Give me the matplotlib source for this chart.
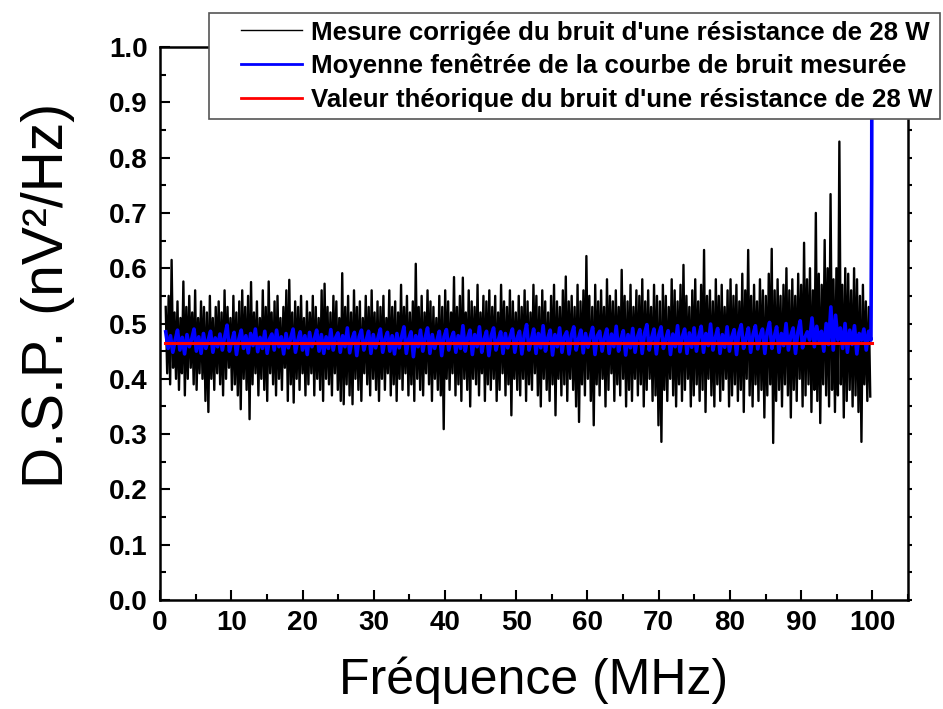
import numpy as np
import matplotlib
matplotlib.use('Agg')
import matplotlib.pyplot as plt
from matplotlib.ticker import MultipleLocator, FormatStrFormatter
from matplotlib.legend_handler import HandlerLine2D

f_start, f_stop = 0.8, 99.7
noise_hi = [
    0.53, 0.55, 0.615, 0.52, 0.54, 0.51, 0.576, 0.53, 0.55, 0.52, 0.56, 0.51, 0.54, 0.53, 0.52, 0.55, 0.51, 0.53, 0.54, 0.52, 0.56, 0.53, 0.51, 0.55,
    0.52, 0.54, 0.56, 0.53, 0.55, 0.575, 0.52, 0.54, 0.51, 0.56, 0.53, 0.576, 0.52, 0.54, 0.55, 0.51, 0.53, 0.56, 0.579, 0.52, 0.54, 0.53, 0.55, 0.51,
    0.54, 0.52, 0.55, 0.53, 0.51, 0.56, 0.572, 0.53, 0.52, 0.55, 0.54, 0.51, 0.591, 0.53, 0.55, 0.52, 0.56, 0.53, 0.54, 0.51, 0.55, 0.53, 0.56, 0.52,
    0.54, 0.53, 0.55, 0.51, 0.56, 0.53, 0.54, 0.52, 0.57, 0.53, 0.55, 0.52, 0.54, 0.608, 0.53, 0.55, 0.52, 0.56, 0.54, 0.53, 0.51, 0.55, 0.53, 0.56,
    0.54, 0.52, 0.584, 0.53, 0.55, 0.583, 0.52, 0.56, 0.54, 0.53, 0.57, 0.52, 0.55, 0.54, 0.56, 0.53, 0.55, 0.52, 0.57, 0.54, 0.53, 0.56, 0.54, 0.52,
    0.55, 0.53, 0.56, 0.54, 0.52, 0.57, 0.55, 0.53, 0.56, 0.54, 0.52, 0.55, 0.57, 0.54, 0.53, 0.56, 0.585, 0.54, 0.55, 0.53, 0.57, 0.54, 0.56, 0.622,
    0.55, 0.53, 0.57, 0.54, 0.56, 0.53, 0.58, 0.55, 0.54, 0.56, 0.53, 0.597, 0.55, 0.54, 0.57, 0.53, 0.56, 0.55, 0.58, 0.54, 0.56, 0.53, 0.57, 0.55,
    0.54, 0.57, 0.55, 0.53, 0.58, 0.56, 0.54, 0.57, 0.606, 0.55, 0.53, 0.56, 0.58, 0.54, 0.57, 0.633, 0.55, 0.56, 0.54, 0.58, 0.55, 0.57, 0.53, 0.56,
    0.58, 0.55, 0.57, 0.54, 0.59, 0.56, 0.633, 0.55, 0.57, 0.54, 0.58, 0.56, 0.55, 0.59, 0.635, 0.56, 0.58, 0.55, 0.57, 0.60, 0.56, 0.58, 0.55, 0.59,
    0.57, 0.646, 0.58, 0.60, 0.56, 0.70, 0.59, 0.57, 0.651, 0.60, 0.734, 0.58, 0.60, 0.829, 0.57, 0.60, 0.59, 0.56, 0.60, 0.58, 0.55, 0.57, 0.54, 0.53,
]
noise_lo = [
    0.41, 0.39, 0.42, 0.40, 0.38, 0.41, 0.37, 0.40, 0.42, 0.39, 0.38, 0.41, 0.40, 0.36, 0.34, 0.40, 0.38, 0.41, 0.39, 0.37, 0.40, 0.42, 0.38, 0.39,
    0.37, 0.345, 0.40, 0.38, 0.327, 0.39, 0.41, 0.37, 0.40, 0.38, 0.36, 0.41, 0.39, 0.37, 0.40, 0.38, 0.42, 0.36, 0.39, 0.357, 0.40, 0.38, 0.41, 0.37,
    0.39, 0.41, 0.37, 0.40, 0.38, 0.36, 0.40, 0.39, 0.37, 0.41, 0.38, 0.36, 0.354, 0.39, 0.37, 0.354, 0.40, 0.38, 0.36, 0.41, 0.39, 0.37, 0.40, 0.38,
    0.36, 0.40, 0.38, 0.41, 0.37, 0.39, 0.36, 0.40, 0.38, 0.41, 0.37, 0.39, 0.36, 0.40, 0.38, 0.37, 0.41, 0.39, 0.36, 0.40, 0.38, 0.37, 0.309, 0.40,
    0.38, 0.41, 0.37, 0.39, 0.36, 0.40, 0.38, 0.35, 0.40, 0.39, 0.37, 0.41, 0.36, 0.39, 0.38, 0.40, 0.36, 0.38, 0.41, 0.37, 0.39, 0.334, 0.40, 0.38,
    0.37, 0.40, 0.36, 0.39, 0.38, 0.41, 0.37, 0.35, 0.40, 0.38, 0.36, 0.39, 0.334, 0.40, 0.37, 0.39, 0.36, 0.40, 0.38, 0.35, 0.322, 0.39, 0.37, 0.40,
    0.36, 0.316, 0.39, 0.37, 0.40, 0.35, 0.38, 0.41, 0.36, 0.39, 0.37, 0.40, 0.35, 0.38, 0.36, 0.40, 0.37, 0.39, 0.35, 0.38, 0.40, 0.36, 0.37, 0.316,
    0.286, 0.38, 0.36, 0.40, 0.37, 0.35, 0.39, 0.36, 0.38, 0.40, 0.35, 0.37, 0.39, 0.36, 0.38, 0.34, 0.40, 0.37, 0.35, 0.39, 0.36, 0.38, 0.40, 0.35,
    0.37, 0.39, 0.36, 0.38, 0.34, 0.40, 0.37, 0.35, 0.39, 0.36, 0.38, 0.33, 0.37, 0.39, 0.284, 0.36, 0.38, 0.35, 0.39, 0.37, 0.33, 0.38, 0.36, 0.40,
    0.35, 0.37, 0.39, 0.34, 0.38, 0.36, 0.32, 0.39, 0.37, 0.35, 0.38, 0.34, 0.37, 0.39, 0.33, 0.36, 0.38, 0.35, 0.37, 0.34, 0.286, 0.39, 0.36, 0.368,
]

# windowed mean of the measured noise
avg_start, avg_stop = 0.8, 99.8
noise_avg = [
    0.485, 0.455, 0.478, 0.448, 0.470, 0.488, 0.452, 0.475, 0.445, 0.480, 0.458, 0.472, 0.490, 0.450, 0.476, 0.446, 0.482, 0.455, 0.470, 0.486, 0.448, 0.474, 0.458, 0.481, 0.452,
    0.476, 0.497, 0.450, 0.468, 0.484, 0.444, 0.472, 0.488, 0.455, 0.478, 0.447, 0.482, 0.460, 0.490, 0.449, 0.475, 0.455, 0.486, 0.446, 0.472, 0.481, 0.452, 0.488, 0.458, 0.476,
    0.445, 0.482, 0.456, 0.474, 0.490, 0.448, 0.470, 0.485, 0.452, 0.478, 0.444, 0.484, 0.458, 0.472, 0.488, 0.450, 0.480, 0.446, 0.476, 0.455, 0.489, 0.452, 0.474, 0.483, 0.448,
    0.478, 0.458, 0.492, 0.447, 0.472, 0.484, 0.442, 0.476, 0.488, 0.452, 0.470, 0.486, 0.446, 0.480, 0.456, 0.474, 0.490, 0.448, 0.472, 0.484, 0.450, 0.478, 0.445, 0.482, 0.456,
    0.476, 0.494, 0.446, 0.472, 0.485, 0.440, 0.478, 0.458, 0.488, 0.450, 0.474, 0.492, 0.446, 0.480, 0.455, 0.470, 0.486, 0.442, 0.476, 0.489, 0.452, 0.472, 0.484, 0.448, 0.478,
    0.455, 0.496, 0.450, 0.474, 0.488, 0.444, 0.480, 0.458, 0.494, 0.448, 0.472, 0.486, 0.442, 0.478, 0.492, 0.452, 0.470, 0.485, 0.446, 0.482, 0.456, 0.476, 0.490, 0.448, 0.474,
    0.486, 0.445, 0.478, 0.498, 0.452, 0.470, 0.490, 0.446, 0.482, 0.456, 0.496, 0.450, 0.474, 0.488, 0.443, 0.480, 0.458, 0.492, 0.448, 0.476, 0.485, 0.445, 0.479, 0.494, 0.452,
    0.472, 0.488, 0.447, 0.482, 0.457, 0.476, 0.493, 0.444, 0.478, 0.486, 0.450, 0.474, 0.490, 0.446, 0.481, 0.458, 0.495, 0.450, 0.472, 0.487, 0.443, 0.480, 0.456, 0.491, 0.448,
    0.476, 0.489, 0.446, 0.482, 0.498, 0.452, 0.474, 0.490, 0.445, 0.479, 0.494, 0.455, 0.472, 0.487, 0.444, 0.481, 0.458, 0.496, 0.449, 0.476, 0.490, 0.446, 0.483, 0.457, 0.492,
    0.450, 0.477, 0.495, 0.448, 0.482, 0.460, 0.499, 0.452, 0.474, 0.491, 0.446, 0.480, 0.457, 0.494, 0.450, 0.476, 0.489, 0.444, 0.483, 0.498, 0.455, 0.473, 0.492, 0.448, 0.480,
    0.496, 0.454, 0.478, 0.490, 0.446, 0.484, 0.502, 0.455, 0.476, 0.494, 0.448, 0.482, 0.460, 0.500, 0.452, 0.478, 0.492, 0.446, 0.484, 0.505, 0.456, 0.475, 0.485, 0.470, 0.510,
    0.458, 0.495, 0.468, 0.486, 0.450, 0.500, 0.462, 0.530, 0.452, 0.515, 0.470, 0.492, 0.455, 0.500, 0.448, 0.488, 0.462, 0.496, 0.445, 0.482, 0.470, 0.490, 0.452, 0.486, 0.470,
]
# last windows at the band edge
avg_tail_f = [99.9, 100.0]
avg_tail = [0.76, 1.5]

# theoretical thermal noise of the 28 ohm resistor
theory_f = [0.7, 100.0]
theory_val = [0.465, 0.465]

f_noise = np.linspace(f_start, f_stop, 2 * len(noise_hi))
noise = np.empty(2 * len(noise_hi))
noise[0::2] = noise_hi
noise[1::2] = noise_lo

f_avg = np.concatenate([np.linspace(avg_start, avg_stop, len(noise_avg)), avg_tail_f])
avg = np.concatenate([noise_avg, avg_tail])


class IndentedLine(HandlerLine2D):
    # legend line drawn on the right part of the handle box only
    def get_xdata(self, legend, xdescent, ydescent, width, height, fontsize):
        x0 = -xdescent + 0.29 * width
        x1 = -xdescent + width
        return np.array([x0, x1]), np.array([0.5 * (x0 + x1)])


plt.rcParams['font.family'] = ['Liberation Sans', 'DejaVu Sans']

fig = plt.figure(figsize=(9.43, 7.09), dpi=100)
ax = fig.add_axes([0.1697, 0.1537, 0.7932, 0.78])

ax.plot(f_noise, noise, color='black', linewidth=1.7,
        label="Mesure corrigée du bruit d'une résistance de 28 W")
ax.plot(f_avg, avg, color='#0000ff', linewidth=2.6,
        label='Moyenne fenêtrée de la courbe de bruit mesurée')
ax.plot(theory_f, theory_val, color='#ff0000', linewidth=2.2,
        label="Valeur théorique du bruit d'une résistance de 28 W")

ax.set_xlim(0, 105)
ax.set_ylim(0, 1.0)
ax.xaxis.set_major_locator(MultipleLocator(10))
ax.xaxis.set_minor_locator(MultipleLocator(5))
ax.yaxis.set_major_locator(MultipleLocator(0.1))
ax.yaxis.set_minor_locator(MultipleLocator(0.05))
ax.yaxis.set_major_formatter(FormatStrFormatter('%.1f'))

for s in ax.spines.values():
    s.set_linewidth(1.8)

ax.tick_params(which='both', direction='in', top=False, right=False, width=1.5)
ax.tick_params(which='major', length=7, labelsize=20, pad=7)
ax.tick_params(axis='y', which='major', pad=9)
ax.tick_params(which='minor', length=4)
for lbl in ax.get_xticklabels() + ax.get_yticklabels():
    lbl.set_fontweight('bold')

# right axis: small outward ticks, no labels
ax2 = ax.twinx()
ax2.set_ylim(0, 1.0)
ax2.yaxis.set_major_locator(MultipleLocator(0.05))
ax2.tick_params(direction='out', length=3, width=1.5, labelright=False)
for s in ax2.spines.values():
    s.set_visible(False)

ax.set_xlabel('Fréquence (MHz)', fontsize=36, labelpad=15)
ax.set_ylabel('D.S.P. (nV²/Hz)', fontsize=41)
ax.yaxis.set_label_coords(-0.1136, 0.5515)

handles, labels = ax.get_legend_handles_labels()
leg = fig.legend(handles, labels, loc='upper right', bbox_to_anchor=(0.997, 0.982),
                 prop={'weight': 'bold', 'size': 18.6}, fancybox=False, framealpha=1,
                 edgecolor='#555555', handlelength=3.3, handletextpad=0.35,
                 labelspacing=0.36, borderpad=0.3, borderaxespad=0,
                 handler_map={h: IndentedLine() for h in handles})
leg.get_frame().set_linewidth(1.2)
for line, lw in zip(leg.get_lines(), [1.0, 2.0, 2.0]):
    line.set_linewidth(lw)

fig.savefig('out.png', dpi=100)
